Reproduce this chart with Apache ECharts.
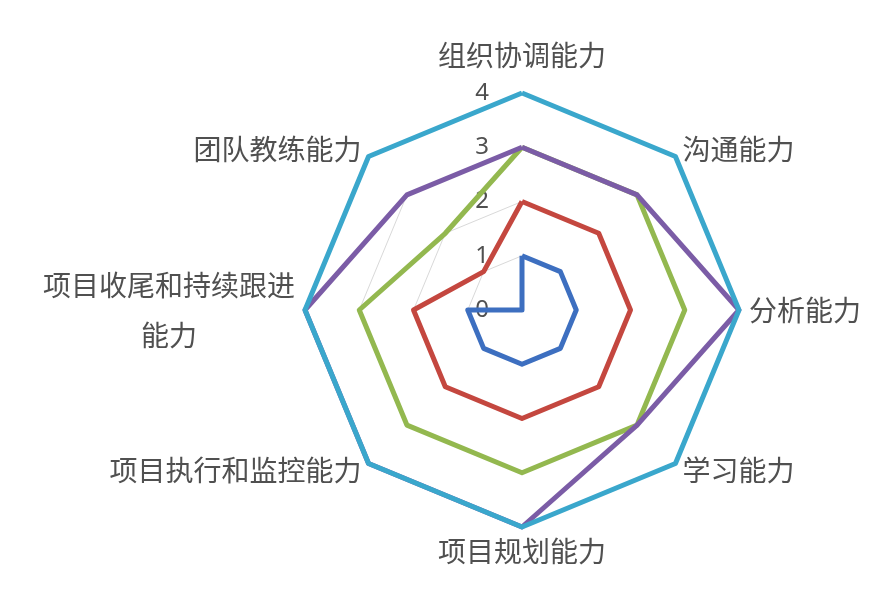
<!DOCTYPE html>
<html><head><meta charset="utf-8">
<script src="https://cdn.jsdelivr.net/npm/echarts@6/dist/echarts.min.js"></script>
<style>html,body{margin:0;padding:0;background:#fff}#c{width:892px;height:616px}</style>
</head><body><div id="c"></div>
<script>
// indicators listed clockwise starting at the top
const categories = ['组织协调能力','沟通能力','分析能力','学习能力','项目规划能力','项目执行和监控能力','项目收尾和持续跟进能力','团队教练能力'];
const tickLabels = ['0','1','2','3','4'];
const seriesNames = ['系列1','系列2','系列3','系列4','系列5'];
const valuesBlue   = [1,1,1,1,1,1,1,0];
const valuesRed    = [2,2,2,2,2,2,2,1];
const valuesGreen  = [3,3,3,3,3,3,3,2];
const valuesPurple = [3,3,4,3,4,4,4,3];
const valuesCyan   = [4,4,4,4,4,4,4,4];

const colors = ['#3d6fc0','#c4473f','#93b84f','#7b5ca6','#3aa7cc'];
const allValues = [valuesBlue, valuesRed, valuesGreen, valuesPurple, valuesCyan];

// ECharts lays indicators out counter-clockwise; reorder so they appear clockwise
const order = [0,7,6,5,4,3,2,1];
const indicator = order.map((i, k) => {
  const o = { name: categories[i], min: 0, max: 4 };
  if (k === 0) o.axisLabel = { show: true };
  return o;
});

const chart = echarts.init(document.getElementById('c'));
const nameStyle = { fontSize: 28, color: '#505050', fontFamily: 'Noto Sans CJK SC' };
chart.setOption({
  animation: false,
  backgroundColor: '#fff',
  radar: {
    center: [522, 310],
    radius: 217,
    startAngle: 90,
    shape: 'polygon',
    splitNumber: 4,
    indicator: indicator,
    nameGap: 10,
    axisName: {
      color: '#505050', fontSize: 28, fontFamily: 'Noto Sans CJK SC',
      formatter: function (name) {
        if (name === '项目收尾和持续跟进能力') return '{two|项目收尾和持续跟进}\n{two|能力}';
        if (name === '组织协调能力') return '{top|' + name + '}';
        return name;
      },
      rich: {
        two: Object.assign({ lineHeight: 50, align: 'center' }, nameStyle),
        top: Object.assign({ padding: [0, 0, 14, 0] }, nameStyle)
      }
    },
    axisLine: { show: false },
    axisTick: { show: false },
    splitArea: { show: false },
    splitLine: { lineStyle: { color: '#d9d9d9', width: 1 } },
    axisLabel: {
      show: false, color: '#505050', fontSize: 24, fontFamily: 'Noto Sans', margin: 33,
      formatter: function (v) { return tickLabels[Math.round(v)]; }
    }
  },
  series: allValues.map((vals, s) => ({
    type: 'radar',
    name: seriesNames[s],
    symbol: 'none',
    lineStyle: { color: colors[s], width: 5 },
    itemStyle: { color: colors[s] },
    data: [{ value: order.map(i => vals[i]), name: seriesNames[s] }]
  }))
});
</script>
</body></html>
